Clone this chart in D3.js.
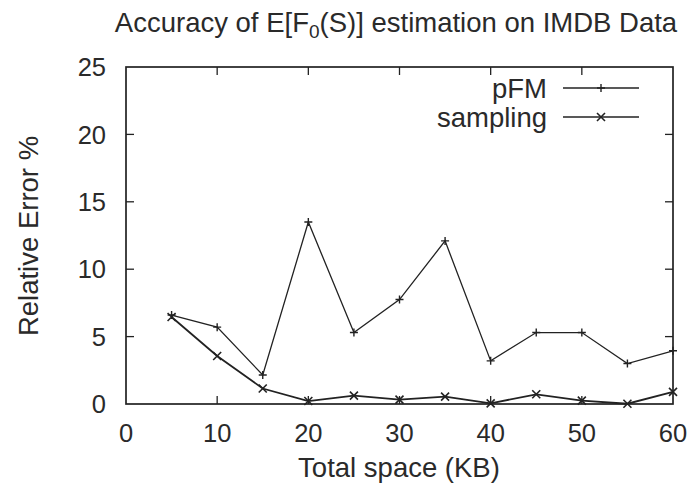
<!DOCTYPE html>
<html><head><meta charset="utf-8">
<script src="https://cdn.jsdelivr.net/npm/d3@7"></script>
<style>body{margin:0;background:#fff}svg{display:block}text{font-family:"Liberation Sans",Arial,sans-serif;fill:#2a2a2a}</style>
</head><body>
<svg id="c" width="694" height="488"></svg>
<script>
const xs = [5,10,15,20,25,30,35,40,45,50,55,60];
const pFM = [6.6,5.7,2.15,13.5,5.3,7.75,12.1,3.2,5.3,5.3,3.0,3.95];
const sampling = [6.45,3.56,1.15,0.22,0.62,0.32,0.55,0.05,0.72,0.25,0.02,0.9];
const xTicks = [0,10,20,30,40,50,60];
const yTicks = [0,5,10,15,20,25];
const seriesNames = ["pFM","sampling"];

const svg = d3.select("#c");
const L=126,R=673,T=67,B=404;
const x = d3.scaleLinear().domain([0,60]).range([L,R]);
const y = d3.scaleLinear().domain([0,25]).range([B,T]);
const ink="#222";

const tl=8;
const g = svg.append("g").attr("stroke",ink).attr("stroke-width",1.3);
xTicks.forEach(v=>{
  if(v>0 && v<60){
    g.append("line").attr("x1",x(v)).attr("x2",x(v)).attr("y1",B).attr("y2",B-tl);
    g.append("line").attr("x1",x(v)).attr("x2",x(v)).attr("y1",T).attr("y2",T+tl);
  }
});
yTicks.forEach(v=>{
  if(v>0 && v<25){
    g.append("line").attr("x1",L).attr("x2",L+tl).attr("y1",y(v)).attr("y2",y(v));
    g.append("line").attr("x1",R).attr("x2",R-tl).attr("y1",y(v)).attr("y2",y(v));
  }
});
svg.append("rect").attr("x",L).attr("y",T).attr("width",R-L).attr("height",B-T)
  .attr("fill","none").attr("stroke",ink).attr("stroke-width",1.7);

xTicks.forEach(v=>{
  svg.append("text").attr("x",x(v)).attr("y",442).attr("text-anchor","middle")
    .attr("font-size",25.5).text(v);
});
yTicks.forEach(v=>{
  svg.append("text").attr("x",106).attr("y",y(v)).attr("dy","0.36em").attr("text-anchor","end")
    .attr("font-size",25.5).text(v);
});

const tt = svg.append("text").attr("x",396).attr("y",32).attr("text-anchor","middle").attr("font-size",27.5);
tt.append("tspan").text("Accuracy of E[F");
tt.append("tspan").attr("font-size",19).attr("dy",6).text("0");
tt.append("tspan").attr("dy",-6).text("(S)] estimation on IMDB Data");
svg.append("text").attr("x",399).attr("y",477).attr("text-anchor","middle").attr("font-size",27.5).text("Total space (KB)");
svg.append("text").attr("transform","translate(38,236) rotate(-90)").attr("text-anchor","middle").attr("font-size",27.5).text("Relative Error %");

const line = d3.line().x((d,i)=>x(xs[i])).y(d=>y(d));
const plotG = svg.append("g");
plotG.append("path").datum(pFM).attr("d",line).attr("fill","none").attr("stroke",ink).attr("stroke-width",1.3);
plotG.append("path").datum(sampling).attr("d",line).attr("fill","none").attr("stroke",ink).attr("stroke-width",1.8);

const ms=4;
function plus(gg,cx,cy){gg.append("path").attr("d",`M${cx-ms},${cy}H${cx+ms}M${cx},${cy-ms}V${cy+ms}`).attr("stroke",ink).attr("stroke-width",1.4).attr("fill","none");}
function cross(gg,cx,cy){gg.append("path").attr("d",`M${cx-ms},${cy-ms}L${cx+ms},${cy+ms}M${cx-ms},${cy+ms}L${cx+ms},${cy-ms}`).attr("stroke",ink).attr("stroke-width",1.6).attr("fill","none");}
pFM.forEach((v,i)=>plus(plotG,x(xs[i]),y(v)));
sampling.forEach((v,i)=>cross(plotG,x(xs[i]),y(v)));

const legY=[88,117];
seriesNames.forEach((n,i)=>{
  svg.append("text").attr("x",547).attr("y",legY[i]).attr("dy","0.35em").attr("text-anchor","end").attr("font-size",27.5).text(n);
  svg.append("line").attr("x1",563).attr("x2",639).attr("y1",legY[i]).attr("y2",legY[i]).attr("stroke",ink).attr("stroke-width",1.6);
  if(i===0) plus(svg,601,legY[i]); else cross(svg,601,legY[i]);
});
</script>
</body></html>
